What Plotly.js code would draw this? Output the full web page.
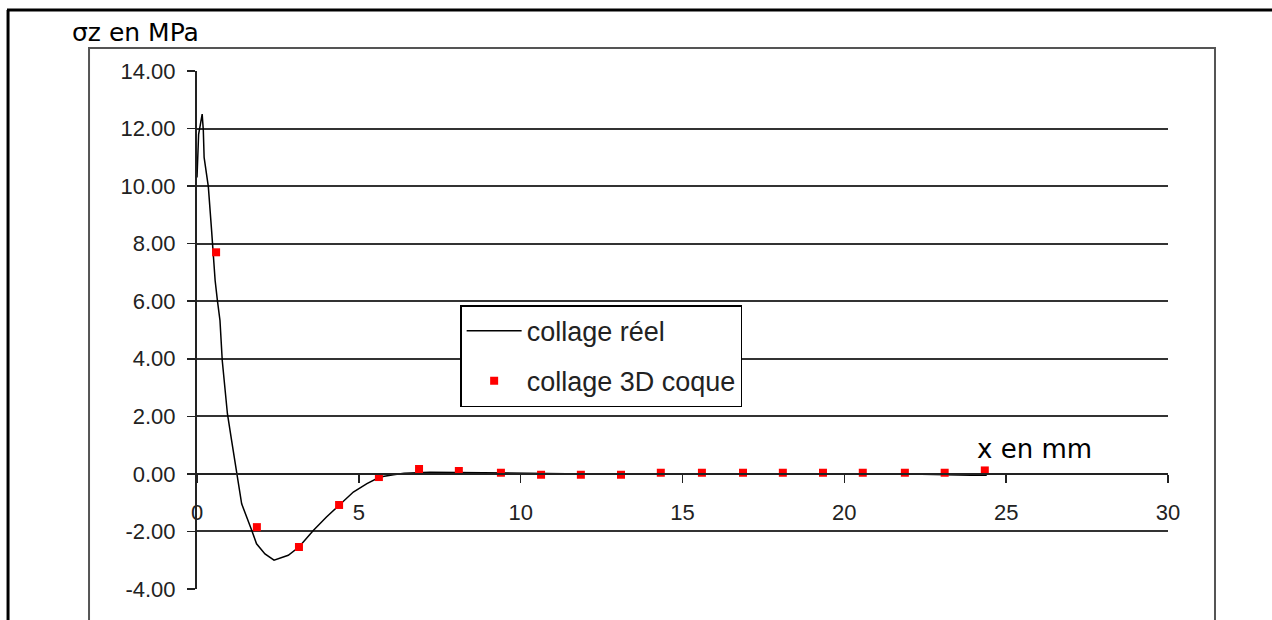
<!DOCTYPE html>
<html>
<head>
<meta charset="utf-8">
<script src="https://cdn.plot.ly/plotly-3.0.1.min.js"></script>
<style>
  html, body { margin: 0; padding: 0; background: #fff; }
  #chart { width: 1272px; height: 620px; }
</style>
</head>
<body>
<div id="chart"></div>
<script>
// collage réel (line)
const reelX = [0, 0.05, 0.16, 0.195, 0.22, 0.3, 0.35, 0.45, 0.56, 0.63, 0.71, 0.78, 0.86, 0.94, 1.07, 1.23, 1.38, 1.69, 1.84, 2.10, 2.38, 2.82, 3.15, 3.6, 4.0, 4.4, 4.83, 5.25, 5.65, 6.07, 6.4, 7.2, 8.0, 9, 10, 12, 14, 16, 18, 20, 22, 23.9, 24.4];
const reelY = [10.3, 11.8, 12.5, 11.94, 11.0, 10.45, 9.98, 8.47, 6.72, 6.03, 5.33, 3.94, 3.02, 2.09, 1.16, 0, -1.04, -1.96, -2.43, -2.78, -3.0, -2.83, -2.54, -1.96, -1.5, -1.08, -0.63, -0.34, -0.11, -0.03, 0.02, 0.06, 0.05, 0.02, 0, 0, 0, 0, 0, 0, 0, -0.05, -0.05];

// collage 3D coque (points)
const coqueX = [0.59, 1.85, 3.15, 4.39, 5.62, 6.86, 8.09, 9.39, 10.63, 11.86, 13.1, 14.33, 15.6, 16.87, 18.1, 19.34, 20.57, 21.87, 23.1, 24.34];
const coqueY = [7.70, -1.85, -2.54, -1.08, -0.11, 0.17, 0.10, 0.04, -0.03, -0.03, -0.03, 0.04, 0.04, 0.04, 0.04, 0.04, 0.04, 0.04, 0.04, 0.12];

const yTicks = [-4, -2, 0, 2, 4, 6, 8, 10, 12, 14];
const yTickText = ['-4.00', '-2.00', '0.00', '2.00', '4.00', '6.00', '8.00', '10.00', '12.00', '14.00'];
const xTicks = [0, 5, 10, 15, 20, 25, 30];
const xTickText = ['0', '5', '10', '15', '20', '25', '30'];

const names = ['collage réel', 'collage 3D coque'];
const yTitle = 'σz en MPa';
const xTitle = 'x en mm';

const tickFont = { family: 'Liberation Sans, Arial, sans-serif', size: 22, color: '#222' };

const traces = [
  {
    x: reelX, y: reelY, type: 'scatter', mode: 'lines', name: names[0],
    line: { color: '#000', width: 1.5 }, legendgroup: 'a'
  },
  {
    x: coqueX, y: coqueY, type: 'scatter', mode: 'markers', name: names[1],
    marker: { color: '#ff0000', symbol: 'square', size: 8 }, legendgroup: 'b'
  }
];

const layout = {
  width: 1272, height: 620,
  margin: { l: 197, r: 104, t: 71, b: 31 },
  paper_bgcolor: '#fff', plot_bgcolor: '#fff',
  showlegend: true,
  legend: {
    x: 0.271, y: 0.548, xanchor: 'left', yanchor: 'top',
    bgcolor: '#fff', bordercolor: '#000', borderwidth: 1.5,
    font: { family: 'Liberation Sans, Arial, sans-serif', size: 27, color: '#222' },
    traceorder: 'grouped', tracegroupgap: 12,
    itemwidth: 55, entrywidth: 320, entrywidthmode: 'pixels'
  },
  xaxis: {
    range: [0, 30], tickvals: xTicks, ticktext: xTickText,
    anchor: 'free', position: 4 / 18,
    showline: true, linecolor: '#222', linewidth: 2,
    ticks: 'outside', ticklen: 8, tickcolor: '#222', tickwidth: 1.5,
    ticklabelstandoff: 11,
    showgrid: false, zeroline: false,
    tickfont: tickFont
  },
  yaxis: {
    range: [-4, 14], tickvals: yTicks, ticktext: yTickText,
    showline: true, linecolor: '#222', linewidth: 2,
    ticks: 'outside', ticklen: 8, tickcolor: '#222', tickwidth: 1.5,
    ticklabelstandoff: 7,
    showgrid: true, gridcolor: '#333', gridwidth: 2, zeroline: false,
    tickfont: tickFont
  },
  shapes: [
    { type: 'line', xref: 'paper', yref: 'paper', x0: -0.1957, x1: 1.11, y0: 1.1178, y1: 1.1178, line: { color: '#000', width: 3 } },
    { type: 'line', xref: 'paper', yref: 'paper', x0: -0.1946, x1: -0.1946, y0: 1.1178, y1: -0.08, line: { color: '#000', width: 3 } },
    { type: 'rect', xref: 'paper', yref: 'paper', x0: -0.1112, x1: 1.0484, y0: -0.08, y1: 1.0444, line: { color: '#555', width: 2 } }
  ],
  annotations: [
    { text: yTitle, xref: 'paper', yref: 'paper', x: -0.1308, y: 1.075, xanchor: 'left', yanchor: 'middle', showarrow: false,
      font: { family: 'DejaVu Sans, Verdana, sans-serif', size: 25, color: '#000' } },
    { text: xTitle, xref: 'paper', yref: 'paper', x: 0.863, y: 0.270, xanchor: 'center', yanchor: 'middle', showarrow: false,
      font: { family: 'DejaVu Sans, Verdana, sans-serif', size: 26, color: '#000' } }
  ]
};

Plotly.newPlot('chart', traces, layout, { displayModeBar: false, staticPlot: true });
</script>
</body>
</html>
